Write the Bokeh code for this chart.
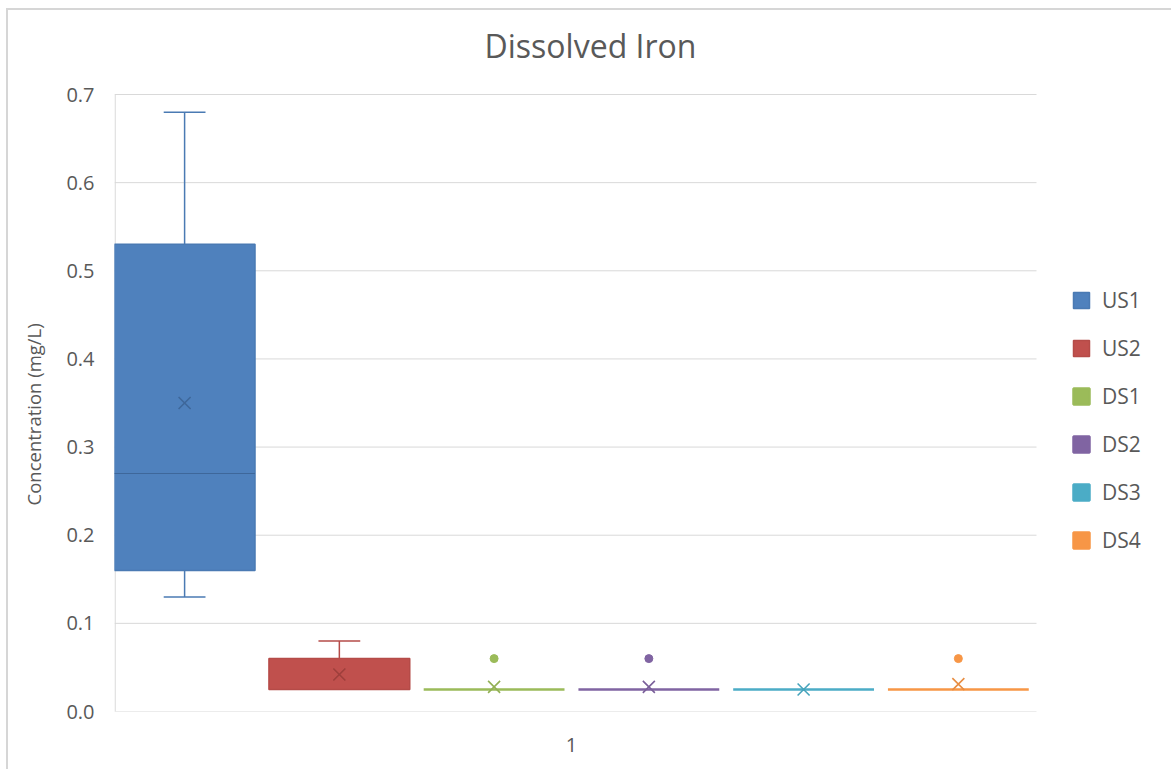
from bokeh.plotting import figure
from bokeh.models import Range1d, FixedTicker, Legend, LegendItem, PrintfTickFormatter, Label, Title
from bokeh.embed import file_html
from bokeh.resources import INLINE

series = ["US1", "US2", "DS1", "DS2", "DS3", "DS4"]
fill_colors = ["#4F81BD", "#C0504D", "#9BBB59", "#8064A2", "#4BACC6", "#F79646"]
line_colors = ["#4A7AB3", "#B54B48", "#92B054", "#7A5F9A", "#46A3BB", "#E88D42"]
dark_colors = ["#3E679A", "#9E3F3C", "#7E9A47", "#6A5088", "#3B8DA3", "#CF7A36"]

q1 = [0.16, 0.025, 0.025, 0.025, 0.025, 0.025]
median = [0.27, 0.025, 0.025, 0.025, 0.025, 0.025]
q3 = [0.53, 0.06, 0.025, 0.025, 0.025, 0.025]
whisker_low = [0.13, 0.025, 0.025, 0.025, 0.025, 0.025]
whisker_high = [0.68, 0.08, 0.025, 0.025, 0.025, 0.025]
mean = [0.35, 0.042, 0.028, 0.028, 0.025, 0.031]
outlier_series = ["DS1", "DS2", "DS4"]
outlier_values = [0.06, 0.06, 0.06]

y_ticks = [0.0, 0.1, 0.2, 0.3, 0.4, 0.5, 0.6, 0.7]
x_tick_labels = {1: "1"}
title_text = "Dissolved Iron"
y_label = "Concentration (mg/L)"

FONT = "Open Sans"
TXT = "#595959"
GRID = "#d9d9d9"

# layout (pixels)
FRAME_W, FRAME_H = 1057, 703
PLOT_H = 617            # pixels spanned by 0..0.7
PX_PER_X = 154.75
X0 = -1.953
X_PLOT_END = 4.005
Y_MAX = 0.7
y_top = Y_MAX + (FRAME_H - PLOT_H) * Y_MAX / PLOT_H
x_end = X0 + FRAME_W / PX_PER_X

p = figure(width=1171, height=761, output_backend="svg", toolbar_location=None,
           x_range=Range1d(X0, x_end), y_range=Range1d(0, y_top),
           min_border_left=114, min_border_top=0, min_border_bottom=58,
           min_border_right=0)
# chart-area border (left and top edges), drawn behind a transparent canvas
p.styles = {"margin-top": "8px", "background-color": "#ffffff",
            "background-image": "linear-gradient(#d6d6d6, #d6d6d6), linear-gradient(#d6d6d6, #d6d6d6)",
            "background-size": "2px 100%, 100% 2px",
            "background-position": "6px 0px, 6px 0px",
            "background-repeat": "no-repeat"}
p.outline_line_color = None
p.background_fill_alpha = 0
p.border_fill_alpha = 0
p.xgrid.grid_line_color = None
p.ygrid.grid_line_color = None

# horizontal gridlines and left axis line, limited to the plotting area
p.segment(x0=[X0] * len(y_ticks), y0=y_ticks, x1=[X_PLOT_END] * len(y_ticks), y1=y_ticks,
          line_color=GRID, line_width=1)
p.segment(x0=[X0 + 0.004], y0=[0], x1=[X0 + 0.004], y1=[Y_MAX], line_color=GRID, line_width=1.2)

p.yaxis.ticker = FixedTicker(ticks=y_ticks)
p.xaxis.ticker = FixedTicker(ticks=list(x_tick_labels.keys()))
p.xaxis.major_label_overrides = x_tick_labels
p.yaxis.formatter = PrintfTickFormatter(format="%.1f")
for ax in (p.xaxis, p.yaxis):
    ax.axis_line_color = None
    ax.major_tick_line_color = None
    ax.minor_tick_line_color = None
    ax.major_label_text_font = FONT
    ax.major_label_text_font_size = "20px"
    ax.major_label_text_color = TXT
p.yaxis.major_label_standoff = 14
p.xaxis.major_label_standoff = 20

# y-axis title, placed along the plotting area (0..0.7) rather than the whole frame
ytitle = Title(text=y_label, align="left", offset=206, standoff=35,
               text_font=FONT, text_font_size="18.5px", text_font_style="normal", text_color=TXT)
p.add_layout(ytitle, "left")

xs = [i - 1.5 for i in range(len(series))]
bw = 0.91
cap = 0.27

items = []
for i, name in enumerate(series):
    x = xs[i]
    if whisker_high[i] > q3[i]:
        p.segment(x0=[x], y0=[q3[i]], x1=[x], y1=[whisker_high[i]], line_color=line_colors[i], line_width=1.5)
        p.segment(x0=[x - cap / 2], y0=[whisker_high[i]], x1=[x + cap / 2], y1=[whisker_high[i]],
                  line_color=line_colors[i], line_width=1.5)
    if whisker_low[i] < q1[i]:
        p.segment(x0=[x], y0=[whisker_low[i]], x1=[x], y1=[q1[i]], line_color=line_colors[i], line_width=1.5)
        p.segment(x0=[x - cap / 2], y0=[whisker_low[i]], x1=[x + cap / 2], y1=[whisker_low[i]],
                  line_color=line_colors[i], line_width=1.5)
    r = p.quad(left=[x - bw / 2], right=[x + bw / 2], bottom=[q1[i]], top=[q3[i]],
               fill_color=fill_colors[i], line_color=line_colors[i] if q3[i] > q1[i] else fill_colors[i],
               line_width=1.5 if q3[i] > q1[i] else 2.5)
    items.append(LegendItem(label=name, renderers=[r]))
    if q3[i] > q1[i] and median[i] > q1[i]:
        p.segment(x0=[x - bw / 2], y0=[median[i]], x1=[x + bw / 2], y1=[median[i]],
                  line_color=dark_colors[i], line_width=1.2)
    p.scatter(x=[x], y=[mean[i]], marker="x", size=17,
              line_color=dark_colors[i] if i < 2 else line_colors[i], line_width=1.6)

ox = [xs[series.index(s)] for s in outlier_series]
oc = [fill_colors[series.index(s)] for s in outlier_series]
p.scatter(x=ox, y=outlier_values, size=8, fill_color=oc, line_color=oc)

# chart title
title = Label(x=X0 + (590 - 114) / PX_PER_X, y=Y_MAX + 49 * Y_MAX / PLOT_H, text=title_text,
              text_font=FONT, text_font_size="32px", text_color=TXT,
              text_align="center", text_baseline="middle")
p.add_layout(title)

legend = Legend(items=items, location=(957, 157), orientation="vertical")
legend.border_line_color = None
legend.background_fill_alpha = 0
legend.glyph_width = 20
legend.glyph_height = 20
legend.label_height = 20
legend.spacing = 20
legend.label_standoff = 11
legend.label_text_font = FONT
legend.label_text_font_size = "21px"
legend.label_text_color = TXT
legend.margin = 0
legend.padding = 0
p.add_layout(legend)

open("out.html", "w").write(file_html(p, INLINE))
